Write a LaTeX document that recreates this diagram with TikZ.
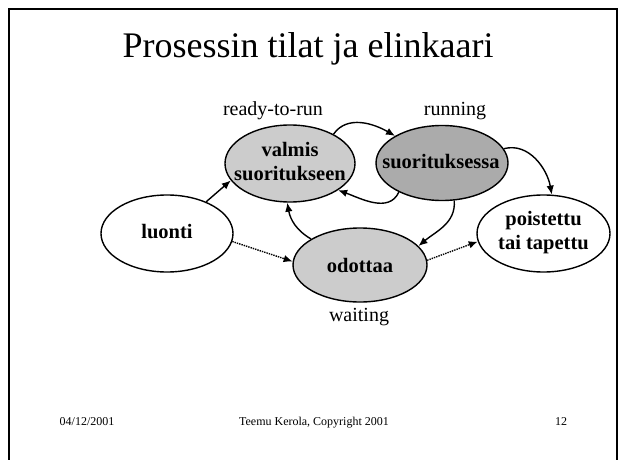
\documentclass[tikz,border=0pt]{standalone}
\usepackage{fontspec}
\setmainfont{Liberation Serif}
\usetikzlibrary{shapes.geometric,arrows.meta}
\begin{document}
\begin{tikzpicture}[x=1pt,y=1pt,
  state/.style={ellipse,draw,line width=1.4pt,inner sep=0pt},
  stxt/.style={align=center,inner sep=0pt,
    font=\fontsize{20.5}{24}\selectfont\bfseries},
  lbl/.style={font=\fontsize{20}{22}\selectfont},
  foot/.style={font=\fontsize{12}{13}\selectfont,anchor=base},
  arr/.style={line width=1.4pt,-{Latex[length=9pt,width=7.5pt]}},
  darr/.style={arr,densely dotted}]
\useasboundingbox (0,0) rectangle (618,459);
\fill[white] (0,0) rectangle (618,459);
\draw[line width=2pt] (9,-2) -- (9,450) -- (617,450) -- (617,-2);
\node[font=\fontsize{36}{40}\selectfont,anchor=base] (title) at (308,402) {Prosessin tilat ja elinkaari};
\node[state,fill=black!20,minimum width=130pt,minimum height=77pt] (v) at (290,295.5) {};
\node[stxt] (vt) at (290,297) {valmis\\suoritukseen};
\node[state,fill=black!33,minimum width=132pt,minimum height=75pt] (s) at (442,296) {};
\node[stxt] (st) at (441,297) {suorituksessa};
\node[state,fill=white,minimum width=132pt,minimum height=77pt] (l) at (167,225.5) {};
\node[stxt] (lt) at (167,227) {luonti};
\node[state,fill=black!20,minimum width=134pt,minimum height=74pt] (o) at (360,194) {};
\node[stxt] (ot) at (360,194) {odottaa};
\node[state,fill=white,minimum width=133pt,minimum height=77pt] (p) at (543.5,225.5) {};
\node[stxt] (pt) at (543.5,226.5) {poistettu\\tai tapettu};
\node[lbl] (rtr) at (273,348) {ready-to-run};
\node[lbl] (run) at (455,348) {running};
\node[lbl] (wait) at (359,142) {waiting};
\draw[arr] (l.39) -- (v.196);
\draw[darr] (l.-7) -- (o.177);
\draw[darr] (o.4) -- (p.187);
\draw[arr] (v.34) to[out=55,in=150] (s.150);
\draw[arr] (s.214) to[out=-115,in=-20] (v.331);
\draw[arr] (s.13) to[out=15,in=100] (p.78);
\draw[arr] (s.288) to[out=-85,in=40] (o.18);
\draw[arr] (o.152) to[out=150,in=-80] (v.266);
\node[foot] (date) at (87,34) {04/12/2001};
\node[foot] (copy) at (314,34) {Teemu Kerola, Copyright 2001};
\node[foot] (page) at (561,34) {12};
\end{tikzpicture}
\end{document}
